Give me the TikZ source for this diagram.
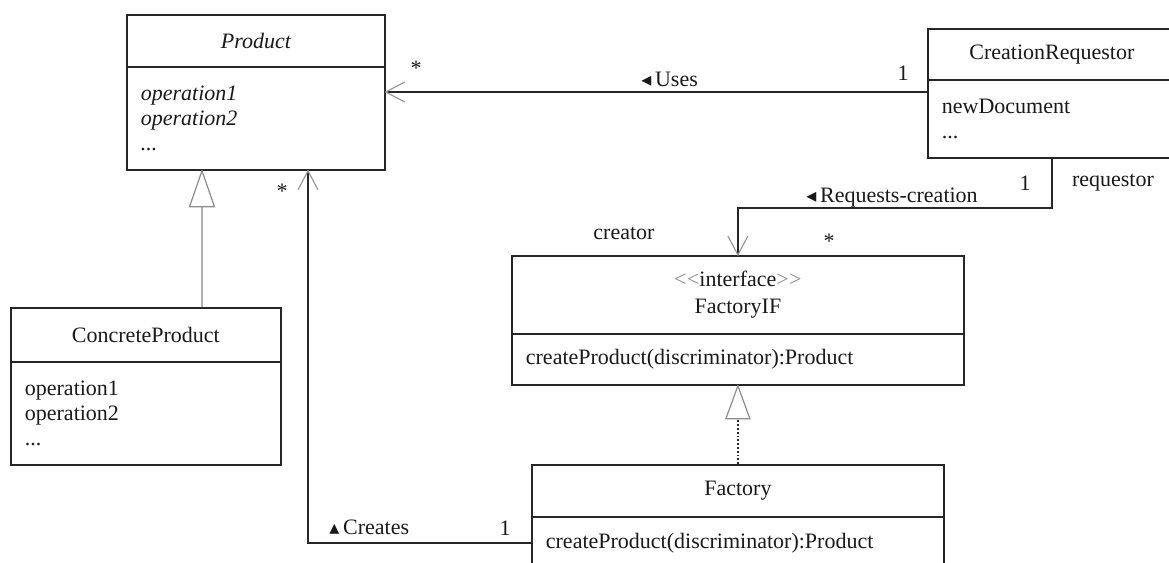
\documentclass[tikz,border=0pt]{standalone}
\usepackage{fontspec}
\setmainfont{Liberation Serif}
\newfontfamily\symfont{DejaVu Sans}
\newcommand\dirtri[1]{{\symfont\fontsize{10}{10}\selectfont #1}}
\newcommand\chev[1]{\textcolor{black!45}{#1\kern0.2pt#1}}
\usetikzlibrary{calc}

\begin{document}
\begin{tikzpicture}[x=0.5pt,y=-0.5pt,
    font=\fontsize{11}{12.5}\selectfont,
    every node/.style={text=black!90},
    cls/.style={draw=black!85, line width=0.9pt, inner sep=0pt, anchor=north west},
    head/.style={cls, align=center},
    body/.style={cls, inner xsep=7pt, inner ysep=0pt, text width=#1, align=left},
    assoc/.style={draw=black!85, line width=0.9pt},
    arm/.style={draw=black!40, line width=0.6pt},
    gentri/.style={draw=black!45, line width=0.6pt, fill=white},
    genline/.style={draw=black!30, line width=0.8pt},
    realline/.style={draw=black!85, line width=0.9pt, densely dotted},
    lbl/.style={inner sep=0pt}
  ]
  \useasboundingbox (0,0) rectangle (1169,563);
  \clip (0,0) rectangle (1169,563);

  % Product (abstract)
  \node[head, minimum width=129pt, minimum height=26pt] (prod) at (126,14) {\itshape Product};
  \node[body=115pt, minimum height=51.5pt] (prodops) at (126,66)
    {\itshape operation1\\ \itshape operation2\\ ...};

  % CreationRequestor
  \node[head, minimum width=124pt, minimum height=25.5pt] (req) at (927,28) {CreationRequestor};
  \node[body=110pt, minimum height=39pt] (reqops) at (927,79) {newDocument\\ ...};

  % ConcreteProduct
  \node[head, minimum width=135pt, minimum height=27pt] (cprod) at (10,307) {ConcreteProduct};
  \node[body=121pt, minimum height=51.5pt] (cprodops) at (10,361)
    {operation1\\ operation2\\ ...};

  % FactoryIF
  \node[head, minimum width=226pt, minimum height=39pt, font=\fontsize{11}{13.5}\selectfont] (fif) at (511,255)
    {\chev{<}interface\chev{>}\\ FactoryIF};
  \node[body=212pt, minimum height=25.5pt] (fifops) at (511,333)
    {createProduct(discriminator):Product};

  % Factory
  \node[head, minimum width=206pt, minimum height=26pt] (fac) at (531,464) {Factory};
  \node[body=192pt, minimum height=26pt] (facops) at (531,516)
    {createProduct(discriminator):Product};

  % Uses: CreationRequestor -> Product
  \coordinate (usesEnd) at ($(prodops.north east)+(0,26)$);
  \draw[assoc] (reqops.west |- usesEnd) -- (usesEnd);
  \draw[arm] ($(usesEnd)+(19,-10)$) -- (usesEnd) -- ($(usesEnd)+(19,10)$);
  \node[lbl] (usesMany) at (416,68) {*};
  \node[lbl, anchor=base west] (usesName) at (641,86) {\dirtri{◂}\,Uses};
  \node[lbl] (usesOne) at (903,73) {1};

  % Requests-creation: CreationRequestor -> FactoryIF
  \draw[assoc] (reqops.south) |- ($(fif.north)+(0,-47)$) -- (fif.north);
  \draw[arm] ($(fif.north)+(-10,-19)$) -- (fif.north) -- ($(fif.north)+(10,-19)$);
  \node[lbl] (reqOne) at (1025,183) {1};
  \node[lbl] (reqRole) at (1113,183) {requestor};
  \node[lbl, anchor=base west] (reqName) at (806,202) {\dirtri{◂}\,Requests-creation};
  \node[lbl] (reqMany) at (829,241) {*};
  \node[lbl] (creRole) at (624,233) {creator};

  % Creates: Factory -> Product
  \coordinate (createsEnd) at ($(prodops.south west)+(182,0)$);
  \draw[assoc] (facops.west) -| (createsEnd);
  \draw[arm] ($(createsEnd)+(-10,19)$) -- (createsEnd) -- ($(createsEnd)+(10,19)$);
  \node[lbl] (creMany) at (282,191) {*};
  \node[lbl, anchor=base west] (creName) at (329,534) {\dirtri{▴}\,Creates};
  \node[lbl] (creOne) at (505,528) {1};

  % Generalization: ConcreteProduct -> Product
  \coordinate (genTip) at ($(prodops.south west)+(76,0)$);
  \draw[genline] (cprod.north -| genTip) -- ($(genTip)+(0,36)$);
  \draw[gentri] (genTip) -- ++(12.5,36) -- ++(-25,0) -- cycle;

  % Realization: Factory -> FactoryIF
  \draw[realline] (fac.north) -- ($(fifops.south)+(0,33)$);
  \draw[gentri] (fifops.south) -- ++(12,33) -- ++(-24,0) -- cycle;
\end{tikzpicture}
\end{document}
